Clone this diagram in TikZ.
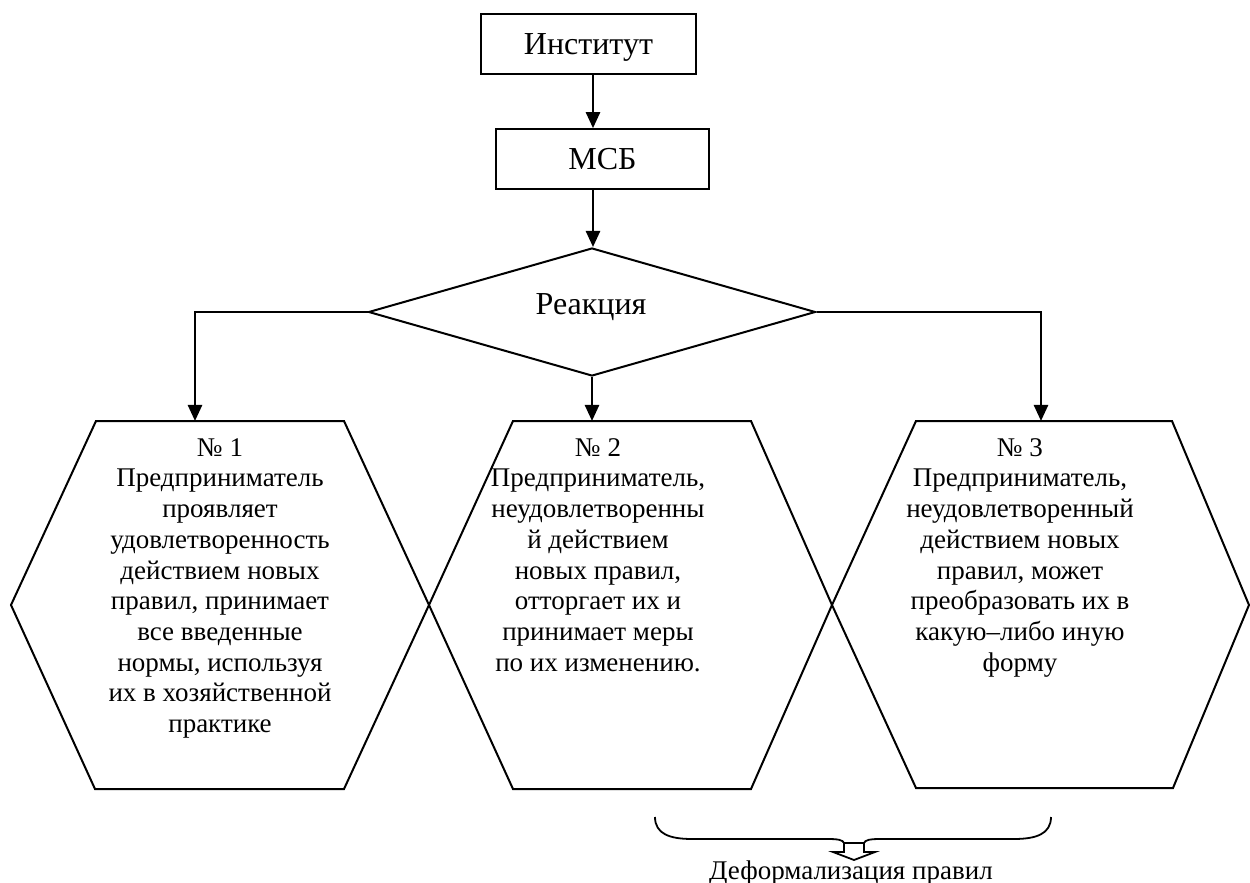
\documentclass[tikz,border=0pt]{standalone}
\usepackage{fontspec}
\setmainfont{Liberation Serif}
\usetikzlibrary{arrows.meta,shapes.geometric}
\begin{document}
\begin{tikzpicture}[x=0.5pt,y=-0.5pt,
  txt/.style={font=\fontsize{13.5}{15.35}\selectfont, inner sep=0pt, align=center},
  bigtxt/.style={font=\fontsize{16}{18}\selectfont, inner sep=0pt, text depth=0pt},
  boxnode/.style={draw, line width=0.8pt, inner sep=0pt, minimum height=30pt, text depth=0pt, font=\fontsize{16}{18}\selectfont},
  shapeline/.style={line width=1pt, line join=miter},
  arr/.style={line width=1.25pt, -{Triangle[length=8pt,width=7pt]}}]
\useasboundingbox (0,0) rectangle (1250,883);

% top boxes
\node[boxnode, minimum width=107.5pt] (inst) at (588.5,44) {Институт};
\node[boxnode, minimum width=106.5pt] (msb) at (602.5,159) {МСБ};
\coordinate (ax) at (593,0);

% diamond
\node[draw, shape=diamond, shapeline, inner sep=0pt, minimum width=223.5pt, minimum height=64pt] (dia) at (592,312) {};
\node[bigtxt] (reac) at (591,304) {Реакция};

% hexagons
\draw[shapeline] (11,605) -- (96,421) -- (344,421) -- (429,605) -- (344,789) -- (95,789) -- cycle;
\draw[shapeline] (429,605) -- (513,421) -- (751,421) -- (832,605) -- (751,789) -- (513,789) -- cycle;
\draw[shapeline] (832,605) -- (916,421) -- (1172,421) -- (1249,605) -- (1173,788) -- (916,788) -- cycle;
\coordinate (h1top) at (195,421);
\coordinate (h2top) at (593,421);
\coordinate (h3top) at (1041,421);

\node[txt, anchor=north] (h1) at (220,438) {№ 1\\Предприниматель\\проявляет\\удовлетворенность\\действием новых\\правил, принимает\\все введенные\\нормы, используя\\их в хозяйственной\\практике};
\node[txt, anchor=north] (h2) at (598,438) {№ 2\\Предприниматель,\\неудовлетворенны\\й действием\\новых правил,\\отторгает их и\\принимает меры\\по их изменению.};
\node[txt, anchor=north] (h3) at (1020,438) {№ 3\\Предприниматель,\\неудовлетворенный\\действием новых\\правил, может\\преобразовать их в\\какую–либо иную\\форму};

% connectors
\draw[arr] (inst.south -| ax) -- (msb.north -| ax);
\draw[arr] (msb.south -| ax) -- (dia.north -| ax);
\draw[arr] (dia.west) -| (h1top);
\draw[arr] (dia.south) -- (dia.south |- h2top);
\draw[arr] (dia.east) -| (h3top);

% brace with hollow arrow
\draw[line width=0.9pt] (655,817) .. controls (655,834) and (670,839) .. (692,839) -- (828,839) .. controls (838,839) and (843,840) .. (844,843);
\draw[line width=0.9pt] (864,843) .. controls (865,840) and (870,839) .. (880,839) -- (1014,839) .. controls (1036,839) and (1051,834) .. (1051,817);
\draw[line width=0.9pt, fill=white, line join=miter] (844,843) -- (844,852) -- (833,852) -- (854,860) -- (875,852) -- (864,852) -- (864,843) -- cycle;
\node[txt, anchor=base] (def) at (851,879) {Деформализация правил};
\end{tikzpicture}
\end{document}
